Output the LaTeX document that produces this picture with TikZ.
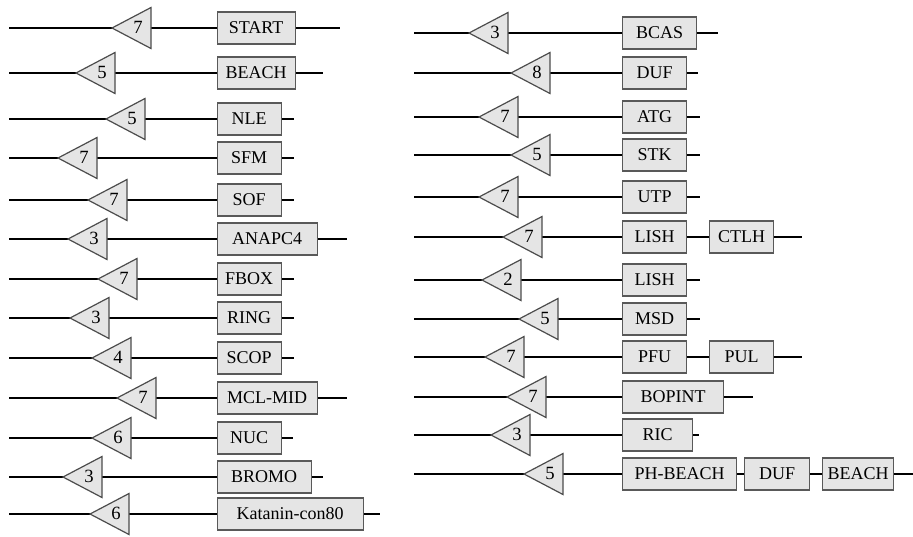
\documentclass[tikz,border=0pt]{standalone}
\usepackage{fontspec}
\setmainfont{Liberation Serif}
\usetikzlibrary{positioning}

\begin{document}
\begin{tikzpicture}[x=0.75pt, y=-0.75pt,
        wire/.style={line width=1.6pt, black},
        tri/.style={draw=black!70, line width=0.9pt, fill=black!10, line join=miter},
        trinum/.style={inner sep=0pt, font=\fontsize{14}{16}\selectfont},
        dombox/.style={draw=black!65, line width=0.9pt, fill=black!10, anchor=west,
                      minimum height=24pt, inner sep=0pt, font=\fontsize{13.5}{15}\selectfont},
      ]
        \useasboundingbox (0,0) rectangle (913,536);

        % left column: row / y / triangle tip / repeats / domain / box width / line end
        \foreach \n/\y/\tx/\val/\lab/\bw/\lend in {
            1/28/112/7/START/78/340, 2/73/76/5/BEACH/78/323, 3/119/106/5/NLE/64/294,
            4/158/58/7/SFM/64/294, 5/200/88/7/SOF/64/294, 6/239/68/3/ANAPC4/100/347,
            7/279/98/7/FBOX/64/294, 8/318/70/3/RING/64/294, 9/358/92/4/SCOP/64/294,
            10/398/117/7/MCL-MID/100/347, 11/438/92/6/NUC/64/293,
            12/477/63/3/BROMO/94/323, 13/514/90/6/Katanin-con80/146/380} {
          \coordinate (ls\n) at (9,\y);
          \coordinate (le\n) at (\lend,\y);
          \draw[wire] (ls\n) -- (le\n);
          \draw[tri] (\tx,\y) -- ++(39,-20.5) -- ++(0,41) -- cycle;
          \node[trinum] (lt\n) at (\tx+26,\y-1) {\val};
          \node[dombox, minimum width=0.75pt*\bw] (lb\n) at (216.5,\y) {\lab};
        }

        % right column
        \foreach \n/\y/\tx/\val/\lab/\bw/\lend in {
            1/33/469/3/BCAS/74/718, 2/73/511/8/DUF/64/698, 3/117/479/7/ATG/64/700,
            4/155/511/5/STK/64/700, 5/197/479/7/UTP/64/700, 6/237/503/7/LISH/64/802,
            7/280/482/2/LISH/64/700, 8/319/519/5/MSD/64/700, 9/357/485/7/PFU/64/802,
            10/397/507/7/BOPINT/101/753, 11/435/491/3/RIC/70/699,
            12/474/524/5/PH-BEACH/114/913} {
          \coordinate (rs\n) at (414,\y);
          \coordinate (re\n) at (\lend,\y);
          \draw[wire] (rs\n) -- (re\n);
          \draw[tri] (\tx,\y) -- ++(39,-20.5) -- ++(0,41) -- cycle;
          \node[trinum] (rt\n) at (\tx+26,\y-1) {\val};
          \node[dombox, minimum width=0.75pt*\bw] (rb\n) at (622,\y) {\lab};
        }

        % extra domains
        \node[dombox, minimum width=48pt] (rc6) at (709,237) {CTLH};
        \node[dombox, minimum width=48pt] (rc9) at (709,357) {PUL};
        \node[dombox, minimum width=48.75pt] (rc12) at (744,474) {DUF};
        \node[dombox, minimum width=53.25pt] (rd12) at (822,474) {BEACH};
      \end{tikzpicture}
\end{document}
